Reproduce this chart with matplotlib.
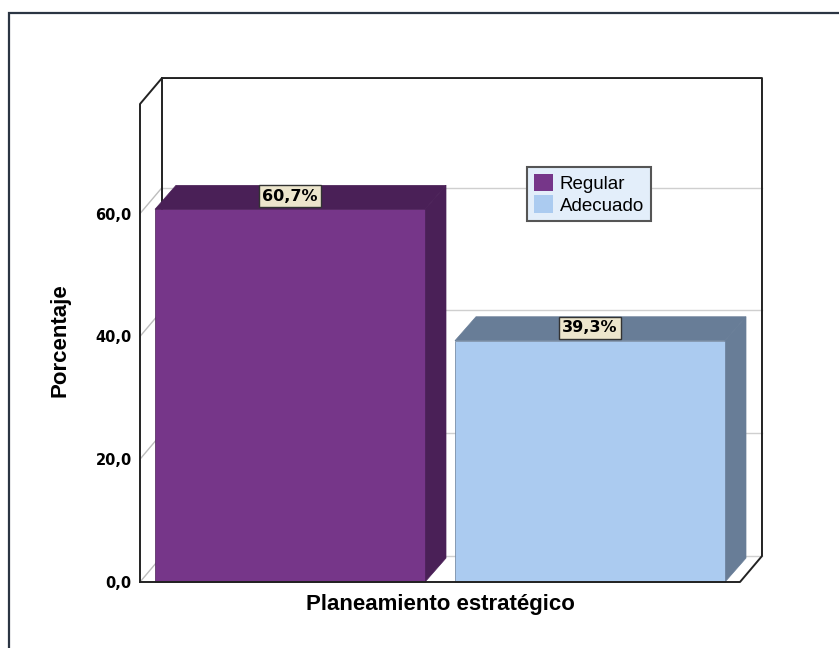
import matplotlib
matplotlib.use("Agg")
import matplotlib.pyplot as plt
from matplotlib.patches import Polygon, Rectangle, Patch

categories = ["Regular", "Adecuado"]
percentages = [60.7, 39.3]
y_ticks = [0, 20, 40, 60]
x_title = "Planeamiento estratégico"
y_title = "Porcentaje"

front_colors = ["#763689", "#abcbf0"]
shade_colors = ["#4a2057", "#687d97"]

fig = plt.figure(figsize=(8.39, 6.48), dpi=100)
ax = fig.add_axes([140 / 839, 66 / 648, 600 / 839, 478 / 648])
ax.set_xlim(-0.5, 1.5)
ax.set_ylim(0, 77.85)
for s in ax.spines.values():
    s.set_visible(False)
ax.set_xticks([])
ax.set_yticks(y_ticks)
ax.set_yticklabels([f"{t:.1f}".replace(".", ",") for t in y_ticks],
                   fontsize=10.5, fontweight="bold", family="DejaVu Sans")
ax.tick_params(axis="y", length=0, pad=6)

# depth of the box and of the bars (x in category units, y in percent)
fdx, fdy = 0.0733, 4.23
bdx, bdy = 0.07, 3.9
x0, x1 = -0.5, 1.5
ytop = 77.85

def line(xs, ys, color="#222222", lw=1.4, z=1):
    ax.plot(xs, ys, color=color, lw=lw, zorder=z, clip_on=False,
            solid_capstyle="projecting")

# back wall grid and left wall diagonals
for t in y_ticks:
    line([x0 + fdx, x1 + fdx], [t + fdy, t + fdy], color="#cfcfcf", lw=1.0, z=0)
    line([x0, x0 + fdx], [t, t + fdy], color="#bdbdbd", lw=1.0, z=0)

# box outline
line([x0 + fdx, x0 + fdx], [fdy, ytop + fdy], z=0.5)
line([x0, x0, x0 + fdx, x1 + fdx, x1 + fdx, x1, x0],
     [0, ytop, ytop + fdy, ytop + fdy, fdy, 0, 0], z=3)

# bars with side and top faces
w = 0.9
for i, (v, fc, sc) in enumerate(zip(percentages, front_colors, shade_colors)):
    l, r = i - w / 2, i + w / 2
    ax.add_patch(Polygon([(r, 0), (r + bdx, bdy), (r + bdx, v + bdy), (r, v)],
                         closed=True, fc=sc, ec=sc, lw=0.5, zorder=2, clip_on=False))
    ax.add_patch(Polygon([(l, v), (l + bdx, v + bdy), (r + bdx, v + bdy), (r, v)],
                         closed=True, fc=sc, ec=sc, lw=0.5, zorder=2, clip_on=False))
    ax.add_patch(Rectangle((l, 0), w, v, fc=fc, ec=sc, lw=0.5, zorder=2.5,
                           clip_on=False))
    ax.text(i, v + 2.1, f"{v:.1f}%".replace(".", ","), ha="center", va="center",
            fontsize=11.5, fontweight="bold", family="DejaVu Sans", zorder=4,
            bbox=dict(boxstyle="square,pad=0.22", fc="#ece5cc", ec="#333333", lw=1.0))

ax.set_ylabel(y_title, fontsize=16, fontweight="bold", family="Liberation Sans")
ax.yaxis.set_label_coords(-0.115, 0.506)
ax.set_xlabel(x_title, fontsize=16, fontweight="bold", family="Liberation Sans")
ax.xaxis.set_label_coords(0.5, -0.025)

handles = [Patch(fc=front_colors[i], ec="none", label=c) for i, c in enumerate(categories)]
leg = ax.legend(handles=handles, loc="upper left",
                bbox_to_anchor=(527 / 839, 1 - 167 / 648), bbox_transform=fig.transFigure,
                prop={"family": "Liberation Sans", "size": 13.5},
                handlelength=1.05, handleheight=1.05, handletextpad=0.35,
                labelspacing=0.15, borderpad=0.35, borderaxespad=0,
                fancybox=False, framealpha=1)
leg.get_frame().set_facecolor("#e3eefa")
leg.get_frame().set_edgecolor("#555555")
leg.get_frame().set_linewidth(1.5)
leg.set_zorder(5)

# outer chart border, running past the right and bottom edges
fig.add_artist(Rectangle((9 / 839, -0.1), 1.2, 1.1 - 13 / 648,
                         transform=fig.transFigure, fill=False,
                         ec="#2b3543", lw=1.6))

fig.savefig("out.png", dpi=100)
